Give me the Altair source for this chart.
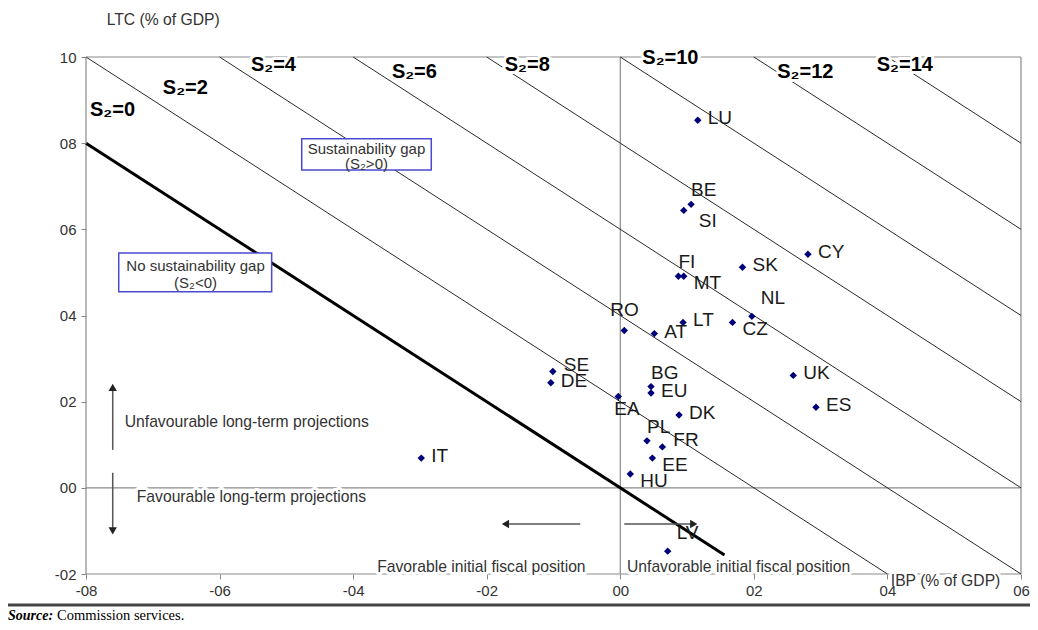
import altair as alt
import pandas as pd

# ---------------- data ----------------
countries = ["LU", "BE", "SI", "CY", "SK", "FI", "MT", "NL", "CZ", "LT", "RO", "AT",
             "SE", "DE", "BG", "EU", "EA", "DK", "PL", "FR", "EE", "HU", "LV", "UK", "ES", "IT"]
ibp = [1.16, 1.06, 0.95, 2.81, 1.83, 0.87, 0.95, 1.97, 1.68, 0.94, 0.06, 0.51,
       -1.01, -1.04, 0.46, 0.46, -0.03, 0.88, 0.40, 0.63, 0.48, 0.15, 0.71, 2.59, 2.93, -2.98]
ltc = [8.53, 6.58, 6.44, 5.42, 5.12, 4.91, 4.91, 3.98, 3.84, 3.84, 3.65, 3.58,
       2.70, 2.44, 2.35, 2.20, 2.12, 1.69, 1.09, 0.95, 0.69, 0.32, -1.47, 2.61, 1.87, 0.69]
label_side = ["r", "u", "rd2", "r", "r", "u", "rd", "ur", "rd", "r", "ul", "r",
              "ru", "r", "u", "r", "dl", "r", "u", "ru", "rd", "rd", "ur", "r", "r", "r"]

s2_levels = [0, 2, 4, 6, 8, 10, 12, 14]
x_ticks = [-8, -6, -4, -2, 0, 2, 4, 6]
y_ticks = [-2, 0, 2, 4, 6, 8, 10]
X_DOMAIN = [-8, 6]
Y_DOMAIN = [-2, 10]

# ---------------- helpers ----------------
FONT = "Liberation Sans"
xs = alt.Scale(domain=X_DOMAIN, nice=False, zero=False)
ys = alt.Scale(domain=Y_DOMAIN, nice=False, zero=False)
label_expr = ("datum.value < 0 ? '-0' + abs(datum.value) : "
              "(datum.value < 10 ? '0' + datum.value : '' + datum.value)")

x_axis = alt.Axis(values=x_ticks, labelExpr=label_expr, domain=False, grid=False,
                  tickColor="#888888", tickSize=5, labelFontSize=15, labelColor="#333333",
                  labelFont=FONT, title=None, labelPadding=4, labelFlush=False,
                  labelOverlap=False, zindex=1)
y_axis = alt.Axis(values=y_ticks, labelExpr=label_expr, domain=False, grid=False,
                  tickColor="#888888", tickSize=5, labelFontSize=15, labelColor="#333333",
                  labelFont=FONT, title=None, labelPadding=5, labelFlush=False,
                  labelOverlap=False, zindex=1)


def X(f="x"):
    return alt.X(f, type="quantitative", scale=xs, axis=x_axis)


def Y(f="y"):
    return alt.Y(f, type="quantitative", scale=ys, axis=y_axis)


# ---------------- frame & reference lines ----------------
frame = pd.DataFrame({
    "x": [-8, -8, 6, -8, 0, -8],
    "y": [10, -2, -2, -2, -2, 0],
    "x2": [6, 6, 6, -8, 0, 6],
    "y2": [10, -2, 10, 10, 10, 0],
})
frame_layer = alt.Chart(frame).mark_rule(color="#8a8a8a", strokeWidth=1.2).encode(
    x=X(), y=Y(), x2="x2", y2="y2")

rows = []
for k in s2_levels:
    x_start = max(X_DOMAIN[0], k - Y_DOMAIN[1])
    x_end = min(X_DOMAIN[1], k - Y_DOMAIN[0])
    if k == 0:
        x_end = 1.56
    rows.append({"k": k, "x": x_start, "y": k - x_start, "x2": x_end, "y2": k - x_end})
s2_df = pd.DataFrame(rows)

thin_lines = alt.Chart(s2_df).transform_filter("datum.k > 0").mark_rule(
    color="#2a2a2a", strokeWidth=1).encode(x=X(), y=Y(), x2="x2", y2="y2")
thick_line = alt.Chart(s2_df).transform_filter("datum.k == 0").mark_rule(
    color="#000000", strokeWidth=3).encode(x=X(), y=Y(), x2="x2", y2="y2")

# ---------------- boxes ----------------
boxes = pd.DataFrame({"x": [-4.77, -7.51], "x2": [-2.83, -5.22],
                      "y": [8.10, 5.45], "y2": [7.38, 4.55]})
box_layer = alt.Chart(boxes).mark_rect(fill="white", stroke="#4a4ad0",
                                       strokeWidth=1.5).encode(
    x=X(), x2="x2", y=Y(), y2="y2")

# ---------------- arrows ----------------
arrow_lines = pd.DataFrame({
    "x": [-7.60, -7.60, -0.60, 0.06],
    "x2": [-7.60, -7.60, -1.72, 1.10],
    "y": [0.88, 0.35, -0.84, -0.84],
    "y2": [2.33, -1.00, -0.84, -0.84],
})
arrow_rules = alt.Chart(arrow_lines).mark_rule(color="#555555", strokeWidth=1.5).encode(
    x=X(), x2="x2", y=Y(), y2="y2")
heads = pd.DataFrame({"x": [-7.60, -7.60, -1.72, 1.10], "y": [2.33, -1.00, -0.84, -0.84],
                      "shape": ["triangle-up", "triangle-down", "triangle-left", "triangle-right"]})
arrow_heads = alt.Chart(heads).mark_point(filled=True, color="#222222", size=70,
                                          opacity=1).encode(
    x=X(), y=Y(), shape=alt.Shape("shape:N", scale=None, legend=None))

# ---------------- text annotations ----------------
s2_labels = pd.DataFrame({
    "x": [-7.94, -6.85, -5.53, -3.42, -1.73, 0.33, 2.35, 3.84],
    "y": [8.77, 9.28, 9.81, 9.65, 9.81, 9.98, 9.65, 9.81],
    "text": ["S\u2082=" + str(k) for k in s2_levels],
})


def text_pair(df, **kw):
    halo = alt.Chart(df).mark_text(fill="white", stroke="white", strokeWidth=6,
                                   strokeJoin="round", **kw).encode(
        x=X(), y=Y(), text="text:N")
    txt = alt.Chart(df).mark_text(**kw).encode(x=X(), y=Y(), text="text:N")
    return [halo, txt]


s2_text = text_pair(s2_labels, align="left", baseline="middle", font=FONT,
                    fontSize=20, fontWeight="bold", color="#000000")

notes = pd.DataFrame({
    "x": [-7.42, -7.24, -3.64, 0.10, 4.05],
    "y": [1.53, -0.21, -1.84, -1.84, -2.16],
    "text": ["Unfavourable long-term projections", "Favourable long-term projections",
             "Favorable initial fiscal position", "Unfavorable initial fiscal position",
             "IBP (% of GDP)"],
})
notes_text = text_pair(notes, align="left", baseline="middle", font=FONT,
                       fontSize=15.7, color="#333333")

ltc_title = alt.Chart(pd.DataFrame({"x": [-7.69], "y": [10.86],
                                    "text": ["LTC (% of GDP)"]})).mark_text(
    align="left", baseline="middle", font=FONT, fontSize=15.7, color="#333333").encode(
    x=X(), y=Y(), text="text:N")

box_text = pd.DataFrame({
    "x": [-3.80, -3.80, -6.36, -6.36],
    "y": [7.87, 7.51, 5.16, 4.75],
    "text": ["Sustainability gap", "(S\u2082>0)", "No sustainability gap", "(S\u2082<0)"],
})
box_text_layer = alt.Chart(box_text).mark_text(
    align="center", baseline="middle", font=FONT, fontSize=15, color="#333333").encode(
    x=X(), y=Y(), text="text:N")

# ---------------- countries ----------------
cdf = pd.DataFrame({"country": countries, "ibp": ibp, "ltc": ltc, "side": label_side})
points = alt.Chart(cdf).mark_point(shape="diamond", filled=True, color="#00007a",
                                   size=55, opacity=1).encode(
    x=X("ibp"), y=Y("ltc"))

offsets = {"r": (10, -2), "ru": (11, -7), "u": (0, -14), "rd": (10, 7), "rd2": (15, 11),
           "ur": (9, -18), "ul": (-14, -21), "dl": (-4, 13)}
label_layers = []
for side, (dx, dy) in offsets.items():
    label_layers.append(
        alt.Chart(cdf).transform_filter(alt.datum.side == side).mark_text(
            align="left", baseline="middle", dx=dx, dy=dy, font=FONT, fontSize=19,
            color="#1a1a1a").encode(x=X("ibp"), y=Y("ltc"), text="country:N"))

# ---------------- source ----------------
src_rule = alt.Chart(pd.DataFrame({"a": [0]})).mark_rule(color="#444444", strokeWidth=3).encode(
    x=alt.value(-78), x2=alt.value(944), y=alt.value(548))
src_a = alt.Chart(pd.DataFrame({"t": ["Source:"]})).mark_text(
    align="left", baseline="alphabetic", font="Liberation Serif", fontSize=14,
    fontWeight="bold", fontStyle="italic", color="#000000").encode(
    x=alt.value(-78), y=alt.value(563), text="t:N")
src_b = alt.Chart(pd.DataFrame({"t": ["Commission services."]})).mark_text(
    align="left", baseline="alphabetic", font="Liberation Serif", fontSize=14.5,
    color="#000000").encode(x=alt.value(-29), y=alt.value(563), text="t:N")

chart = alt.layer(
    frame_layer, thin_lines, thick_line, box_layer, arrow_rules, arrow_heads,
    *s2_text, *notes_text, ltc_title, box_text_layer, points, *label_layers,
    src_rule, src_a, src_b,
).properties(
    width=935, height=517,
    padding={"left": 78, "top": 49, "right": 9, "bottom": 48},
    autosize=alt.AutoSizeParams(type="none"),
).configure_view(stroke=None)

chart.save("out.html", embed_options={"renderer": "svg", "actions": False})
